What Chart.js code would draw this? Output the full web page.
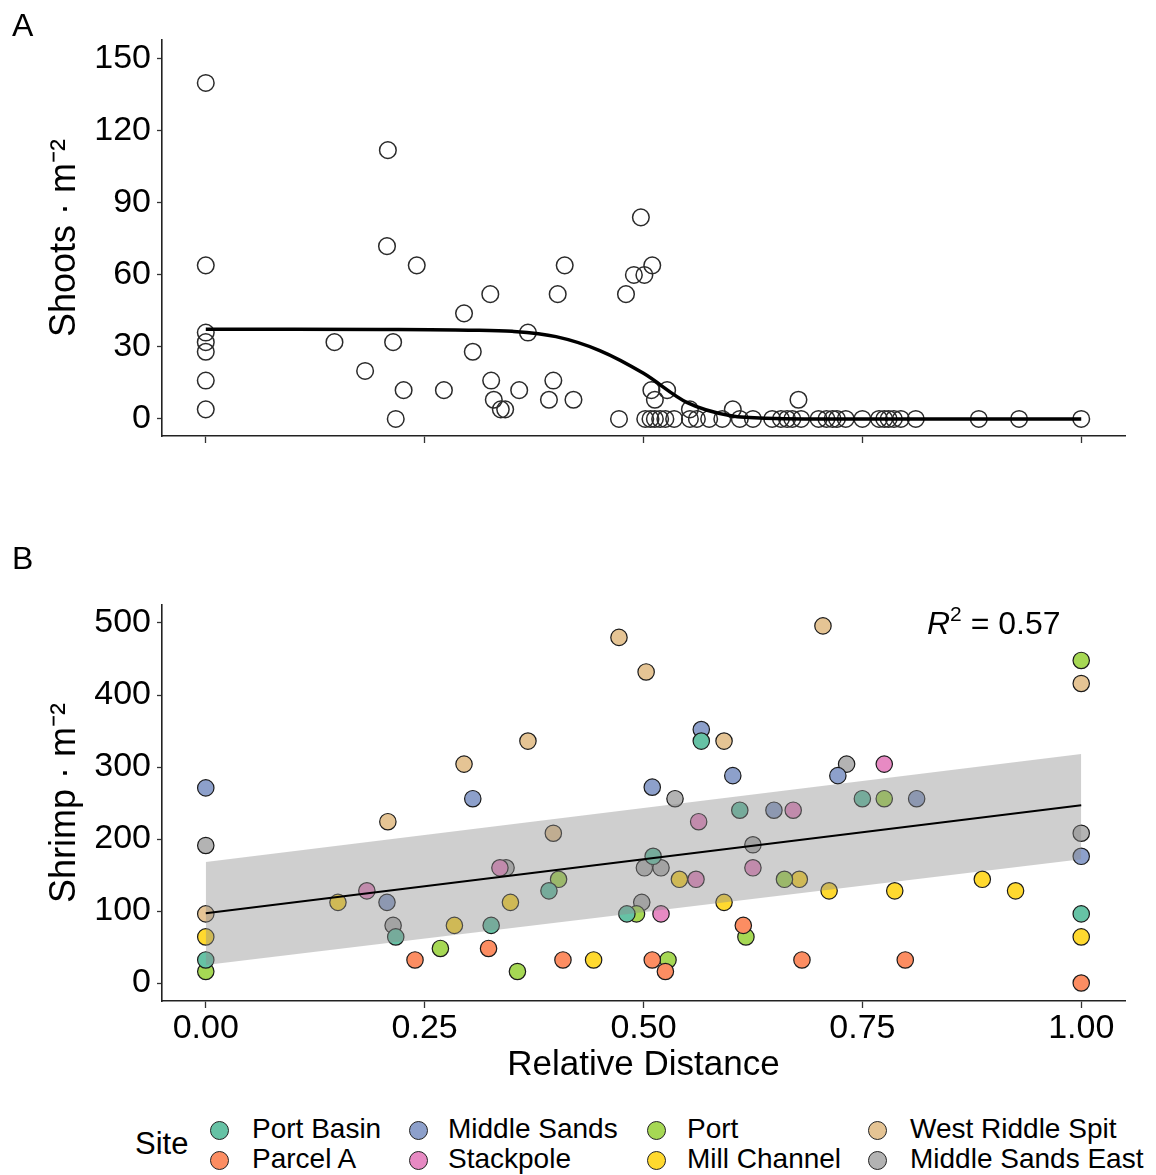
<!DOCTYPE html>
<html lang="en">
<head>
<meta charset="UTF-8">
<title>Shoots and shrimp along relative distance</title>
<script src="https://cdn.jsdelivr.net/npm/chart.js"></script>
<style>
  body {
    margin: 0;
    background: #ffffff;
    font-family: "Liberation Sans", Arial, sans-serif;
    color: #000;
  }
  #wrap {
    position: relative;
    width: 1156px;
    height: 1175px;
    overflow: hidden;
  }
  canvas {
    position: absolute;
    left: 0;
  }
  .panel-label {
    position: absolute;
    left: 12px;
    font-size: 32px;
    line-height: 1;
  }
  #r2 {
    position: absolute;
    left: 927px;
    top: 607px;
    font-size: 32px;
    line-height: 1;
    white-space: nowrap;
  }
  #r2 sup { font-size: 21px; vertical-align: 13px; line-height: 0; }
  #legend-title {
    position: absolute;
    left: 135px;
    top: 1128px;
    font-size: 31px;
    line-height: 1;
  }
  .lg-item {
    position: absolute;
    font-size: 28px;
    line-height: 1;
    white-space: nowrap;
  }
  .lg-dot {
    position: absolute;
    width: 19px;
    height: 19px;
    border-radius: 50%;
    border: 1.3px solid #222;
    box-sizing: border-box;
  }
</style>
</head>
<body>
<div id="wrap">
  <canvas id="chartA" width="1156" height="470" style="top:0"></canvas>
  <canvas id="chartB" width="1156" height="560" style="top:540px"></canvas>
  <div class="panel-label" style="top:9px">A</div>
  <div class="panel-label" style="top:542px">B</div>
  <div id="r2"><i>R</i><sup>2</sup> = 0.57</div>
  <div id="legend-title">Site</div>
  <div id="legend"></div>
</div>

<script>
// tick labels
const xTicks = [0, 0.25, 0.5, 0.75, 1];
const xTickLabels = ['0.00', '0.25', '0.50', '0.75', '1.00'];
const shootTicks = [0, 30, 60, 90, 120, 150];
const shrimpTicks = [0, 100, 200, 300, 400, 500];

// panel A: shoot density, [relative distance, shoots per m2]
const shoots = [
  [0, 140], [0, 64], [0, 36], [0, 32], [0, 28], [0, 16], [0, 4],
  [0.147, 32], [0.182, 20], [0.207, 72], [0.208, 112], [0.214, 32], [0.217, 0],
  [0.226, 12], [0.241, 64], [0.272, 12], [0.295, 44], [0.305, 28], [0.325, 52],
  [0.326, 16], [0.329, 8], [0.337, 4], [0.342, 4], [0.358, 12], [0.368, 36],
  [0.392, 8], [0.397, 16], [0.402, 52], [0.410, 64], [0.420, 8],
  [0.472, 0], [0.480, 52], [0.489, 60], [0.497, 84], [0.501, 60], [0.510, 64],
  [0.509, 12], [0.513, 8], [0.527, 12],
  [0.502, 0], [0.508, 0], [0.513, 0], [0.519, 0], [0.525, 0], [0.535, 0],
  [0.553, 4], [0.553, 0], [0.561, 0], [0.575, 0], [0.590, 0], [0.602, 4],
  [0.610, 0], [0.625, 0], [0.647, 0], [0.657, 0], [0.664, 0], [0.670, 0],
  [0.680, 0], [0.677, 8], [0.700, 0], [0.709, 0], [0.716, 0], [0.721, 0],
  [0.731, 0], [0.750, 0], [0.769, 0], [0.775, 0], [0.780, 0], [0.786, 0],
  [0.794, 0], [0.811, 0], [0.883, 0], [0.929, 0], [1.0, 0]
];

// fitted curve
const curveX = [0, 0.1, 0.2, 0.3, 0.35, 0.4, 0.45, 0.5, 0.55, 0.6, 0.65, 0.7, 0.8, 0.9, 1.0];
const curveY = [37.4, 37.4, 37.3, 37.0, 36.5, 34.3, 28.5, 19.0, 6.8, 1.3, 0.2, 0, 0, 0, 0];

// panel B: shrimp density by site, [relative distance, shrimp per m2]
const siteNames = ['Port Basin', 'Parcel A', 'Middle Sands', 'Stackpole',
                   'Port', 'Mill Channel', 'West Riddle Spit', 'Middle Sands East'];
const siteColors = ['#66C2A5', '#FC8D62', '#8DA0CB', '#E78AC3',
                    '#A6D854', '#FFD92F', '#E5C494', '#B3B3B3'];

const portBasin = [[0, 32], [0.217, 64], [0.326, 80], [0.392, 128], [0.481, 96],
  [0.511, 176], [0.566, 336], [0.610, 240], [0.750, 256], [1, 96]];
const parcelA = [[0.239, 32], [0.323, 48], [0.408, 32], [0.510, 32], [0.525, 16],
  [0.614, 80], [0.681, 32], [0.799, 32], [1, 0]];
const middleSands = [[0, 271], [0.207, 112], [0.305, 256], [0.510, 272], [0.566, 352],
  [0.602, 288], [0.649, 240], [0.722, 288], [0.812, 256], [1, 176]];
const stackpole = [[0.184, 128], [0.336, 160], [0.520, 96], [0.560, 144], [0.563, 224],
  [0.625, 160], [0.671, 240], [0.775, 304]];
const port = [[0, 16], [0.268, 48], [0.356, 16], [0.403, 144], [0.492, 96],
  [0.528, 32], [0.617, 64], [0.661, 144], [0.775, 256], [1, 448]];
const millChannel = [[0, 64], [0.151, 112], [0.284, 80], [0.348, 112], [0.443, 32],
  [0.541, 144], [0.592, 112], [0.678, 144], [0.712, 128], [0.787, 128],
  [0.887, 144], [0.925, 128], [1, 64]];
const westRiddleSpit = [[0, 96], [0.208, 224], [0.295, 304], [0.368, 336], [0.397, 208],
  [0.472, 480], [0.503, 432], [0.592, 336], [0.705, 496], [1, 416]];
const middleSandsEast = [[0, 191], [0.214, 80], [0.343, 160], [0.498, 112], [0.501, 160],
  [0.520, 160], [0.536, 256], [0.625, 192], [0.732, 304], [1, 208]];
const siteData = [portBasin, parcelA, middleSands, stackpole,
                  port, millChannel, westRiddleSpit, middleSandsEast];

// regression line and band
const fitX = [0, 1];
const fitY = [97, 247];
const bandUpper = [168, 318];
const bandLower = [25, 172];

const FONT = '"Liberation Sans", Arial, sans-serif';
const toPts = pairs => pairs.map(p => ({ x: p[0], y: p[1] }));
const zip = (xs, ys) => xs.map((x, i) => ({ x: x, y: ys[i] }));

function xScale(showLabels, height, title) {
  return {
    type: 'linear',
    min: -0.05,
    max: 1.05,
    afterBuildTicks: s => { s.ticks = xTicks.map(v => ({ value: v })); },
    afterFit: s => { s.height = height; },
    grid: { drawOnChartArea: false, drawTicks: true, tickLength: 7, tickWidth: 1.3, tickColor: '#333' },
    border: { display: true, color: '#222', width: 1.6 },
    ticks: {
      color: '#000',
      font: { family: FONT, size: 34 },
      padding: 0,
      maxRotation: 0,
      callback: v => showLabels ? xTickLabels[xTicks.indexOf(v)] : ''
    },
    title: title ? {
      display: true, text: title, color: '#000',
      font: { family: FONT, size: 35 }, padding: { top: 0, bottom: 14 }
    } : { display: false }
  };
}

function yScale(min, max, ticks, title) {
  return {
    type: 'linear',
    min: min,
    max: max,
    afterBuildTicks: s => { s.ticks = ticks.map(v => ({ value: v })); },
    afterFit: s => { s.width = 162; },
    grid: { drawOnChartArea: false, drawTicks: true, tickLength: 5, tickWidth: 1.3, tickColor: '#333' },
    border: { display: true, color: '#222', width: 1.6 },
    ticks: { color: '#000', font: { family: FONT, size: 34 }, padding: 6 },
    title: {
      display: true, text: title, color: '#000',
      font: { family: FONT, size: 36 }, padding: { top: 43, bottom: 0 }
    }
  };
}

const baseOpts = {
  responsive: false,
  animation: false,
  events: [],
  plugins: { legend: { display: false }, tooltip: { enabled: false } }
};

new Chart(document.getElementById('chartA'), {
  type: 'scatter',
  data: {
    datasets: [
      {
        type: 'line',
        data: zip(curveX, curveY),
        borderColor: '#000',
        borderWidth: 3.5,
        pointRadius: 0,
        cubicInterpolationMode: 'monotone',
        fill: false,
        order: 0
      },
      {
        data: toPts(shoots),
        pointRadius: 8.3,
        pointBorderWidth: 1.5,
        pointBorderColor: '#2a2a2a',
        pointBackgroundColor: 'rgba(0,0,0,0)',
        order: 1
      }
    ]
  },
  options: Object.assign({}, baseOpts, {
    layout: { padding: { top: 40, right: 31, left: 0, bottom: 0 } },
    scales: {
      x: xScale(false, 34, null),
      y: yScale(-7.1, 157.9, shootTicks, 'Shoots · m⁻²')
    }
  })
});

const siteSets = siteData.map((pts, i) => ({
  label: siteNames[i],
  data: toPts(pts),
  pointRadius: 8.2,
  pointBorderWidth: 1.2,
  pointBorderColor: '#1a1a1a',
  pointBackgroundColor: siteColors[i],
  order: 2
}));

new Chart(document.getElementById('chartB'), {
  type: 'scatter',
  data: {
    datasets: [
      {
        type: 'line',
        data: zip(fitX, fitY),
        borderColor: '#000',
        borderWidth: 2,
        pointRadius: 0,
        fill: false,
        order: 0
      },
      {
        type: 'line',
        data: zip(fitX, bandUpper),
        borderWidth: 0,
        borderColor: 'rgba(0,0,0,0)',
        pointRadius: 0,
        fill: false,
        order: 1
      },
      {
        type: 'line',
        data: zip(fitX, bandLower),
        borderWidth: 0,
        borderColor: 'rgba(0,0,0,0)',
        backgroundColor: 'rgba(140,140,140,0.42)',
        pointRadius: 0,
        fill: '-1',
        order: 1
      }
    ].concat(siteSets)
  },
  options: Object.assign({}, baseOpts, {
    layout: { padding: { top: 65, right: 31, left: 0, bottom: 0 } },
    scales: {
      x: xScale(true, 99, 'Relative Distance'),
      y: yScale(-25, 525, shrimpTicks, 'Shrimp · m⁻²')
    }
  })
});

// legend: two rows of four columns
const legend = document.getElementById('legend');
const colDot = [210, 409, 647, 868];
const colText = [252, 448, 687, 910];
siteNames.forEach((name, i) => {
  const col = Math.floor(i / 2);
  const row = i % 2;
  const cy = row === 0 ? 1130 : 1160;
  const dot = document.createElement('div');
  dot.className = 'lg-dot';
  dot.style.left = colDot[col] + 'px';
  dot.style.top = (cy - 9.5) + 'px';
  dot.style.background = siteColors[i];
  legend.appendChild(dot);
  const txt = document.createElement('div');
  txt.className = 'lg-item';
  txt.textContent = name;
  txt.style.left = colText[col] + 'px';
  txt.style.top = (cy - 15) + 'px';
  legend.appendChild(txt);
});
</script>
</body>
</html>
